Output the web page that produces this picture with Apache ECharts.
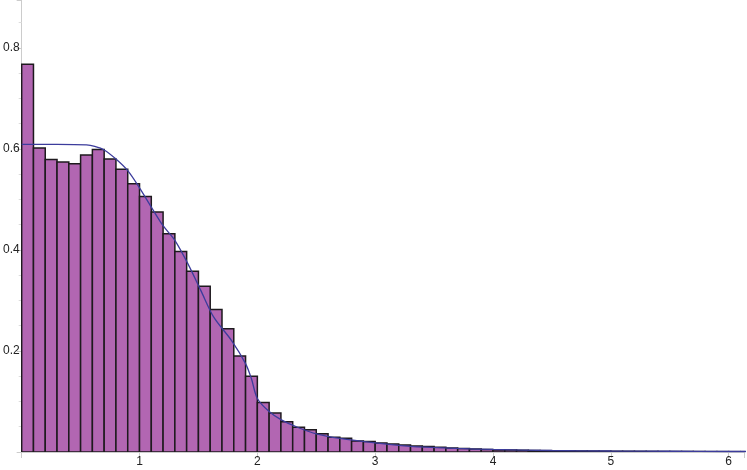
<!DOCTYPE html>
<html>
<head>
<meta charset="utf-8">
<script src="https://cdn.jsdelivr.net/npm/echarts@6/dist/echarts.min.js"></script>
<style>
  html, body { margin: 0; padding: 0; background: #fff; }
  #chart { width: 747px; height: 470px; }
</style>
</head>
<body>
<div id="chart"></div>
<script>
// histogram, bins of width 0.1 starting at 0
var binWidth = 0.1;
var binHeights = [
  0.768, 0.602, 0.579, 0.574, 0.571, 0.588, 0.599, 0.580, 0.560, 0.531,
  0.506, 0.475, 0.432, 0.397, 0.358, 0.328, 0.282, 0.244, 0.190, 0.150,
  0.098, 0.077, 0.060, 0.049, 0.044, 0.036, 0.029, 0.027, 0.022, 0.021,
  0.018, 0.016, 0.014, 0.012, 0.011, 0.0093, 0.0079, 0.0067, 0.006, 0.0048,
  0.0042, 0.0038, 0.0033, 0.003, 0.0027, 0.0024, 0.0022, 0.002, 0.0019, 0.0017,
  0.0015, 0.0014, 0.0013, 0.0012, 0.0011, 0.001, 0.001, 0.0009, 0.0008, 0.0008,
  0.0007, 0.0007
];
// density curve
var curveX = [0, 0.3, 0.55, 0.62, 0.7, 0.8, 0.9, 1.0, 1.1, 1.2, 1.3, 1.41, 1.52, 1.63, 1.78, 1.9, 1.95, 2.0, 2.1, 2.2, 2.34, 2.5, 2.7, 3.0, 3.3, 3.7, 4.0, 4.5, 5.0, 5.5, 6.0, 6.15];
var curveY = [0.609, 0.609, 0.608, 0.605, 0.598, 0.58, 0.557, 0.523, 0.485, 0.448, 0.419, 0.373, 0.32, 0.267, 0.221, 0.175, 0.145, 0.106, 0.08, 0.064, 0.049, 0.036, 0.027, 0.018, 0.011, 0.007, 0.005, 0.003, 0.002, 0.0015, 0.001, 0.001];
var xTicks = [1, 2, 3, 4, 5, 6];
var yTicks = [0.2, 0.4, 0.6, 0.8];

var barData = binHeights.map(function (h, i) {
  return [i * binWidth, (i + 1) * binWidth, h];
});
var lineData = curveX.map(function (x, i) { return [x, curveY[i]]; });

var chart = echarts.init(document.getElementById('chart'));
chart.setOption({
  animation: false,
  grid: { left: 20, right: 0, top: 0, bottom: 18 },
  xAxis: {
    type: 'value',
    min: 0,
    max: 6.13,
    interval: 1,
    axisLine: { show: true, onZero: false, lineStyle: { color: '#cccccc' } },
    axisTick: { show: true, length: 6, lineStyle: { color: '#cccccc' } },
    splitLine: { show: false },
    axisLabel: {
      color: '#222',
      fontSize: 12,
      fontFamily: 'Liberation Sans, Arial, sans-serif',
      margin: 4,
      formatter: function (v) { return xTicks.indexOf(v) >= 0 ? String(v) : ''; }
    }
  },
  yAxis: {
    type: 'value',
    min: 0,
    max: 0.895,
    interval: 0.2,
    axisLine: { show: true, lineStyle: { color: '#cccccc' } },
    axisTick: { show: true, length: 5, lineStyle: { color: '#cccccc' } },
    minorTick: { show: true, splitNumber: 4, length: 3, lineStyle: { color: '#dddddd' } },
    splitLine: { show: false },
    axisLabel: {
      color: '#222',
      fontSize: 12,
      fontFamily: 'Liberation Sans, Arial, sans-serif',
      margin: 2,
      formatter: function (v) {
        for (var i = 0; i < yTicks.length; i++) {
          if (Math.abs(yTicks[i] - v) < 1e-6) return String(yTicks[i]);
        }
        return '';
      }
    }
  },
  series: [
    {
      type: 'custom',
      data: barData,
      clip: true,
      renderItem: function (params, api) {
        var p0 = api.coord([api.value(0), api.value(2)]);
        var p1 = api.coord([api.value(1), 0]);
        return {
          type: 'rect',
          shape: { x: p0[0], y: p0[1], width: p1[0] - p0[0], height: p1[1] - p0[1] },
          style: { fill: '#b266b2', stroke: '#1e1a1e', lineWidth: 1.5 }
        };
      },
      z: 2
    },
    {
      type: 'line',
      data: lineData,
      smooth: 0.3,
      showSymbol: false,
      lineStyle: { color: '#3c3c9c', width: 1.3 },
      z: 3
    }
  ]
});
</script>
</body>
</html>
